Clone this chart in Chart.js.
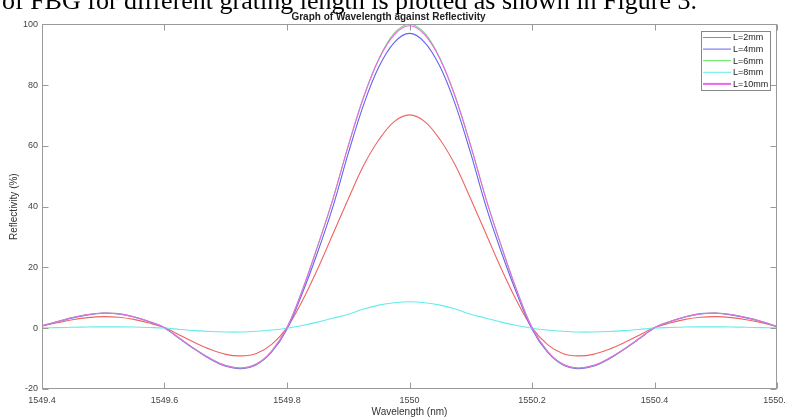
<!DOCTYPE html>
<html>
<head>
<meta charset="utf-8">
<script src="https://cdn.jsdelivr.net/npm/chart.js@4.4.0/dist/chart.umd.min.js"></script>
<style>
html, body { margin: 0; padding: 0; background: #fff; overflow: hidden; }
canvas { display: block; }
</style>
</head>
<body>
<canvas id="chartReflect" width="786" height="417"></canvas>
<script>
// ===============================
// DATOS - Reflectividad vs longitud de onda
// ===============================
const wavelength = [1549.4, 1549.425, 1549.45, 1549.475, 1549.5, 1549.525, 1549.55, 1549.575, 1549.6, 1549.625,
    1549.65, 1549.675, 1549.7, 1549.725, 1549.75, 1549.775, 1549.8, 1549.825, 1549.85, 1549.875,
    1549.9, 1549.925, 1549.95, 1549.975, 1550, 1550.025, 1550.05, 1550.075, 1550.1, 1550.125,
    1550.15, 1550.175, 1550.2, 1550.225, 1550.25, 1550.275, 1550.3, 1550.325, 1550.35, 1550.375,
    1550.4, 1550.425, 1550.45, 1550.475, 1550.5, 1550.525, 1550.55, 1550.575, 1550.6];

const seriesNames = ["L=2mm", "L=4mm", "L=6mm", "L=8mm", "L=10mm"];

const refl2mm = [0.8, 1.8, 2.8, 3.5, 3.8, 3.6, 2.9, 1.7, 0.2, -2.3, -4.8, -7.0, -8.6, -9.1, -8.3, -5.3, 0.2, 9, 19.5, 31, 42.5, 53.5, 62, 68,
    70.2,
    68, 62, 53.5, 42.5, 31, 19.5, 9, 0.2, -5.3, -8.3, -9.1, -8.6, -7.0, -4.8, -2.3, 0.2, 1.7, 2.9, 3.6, 3.8, 3.5, 2.8, 1.8, 0.6];

const refl4mm = [0.7, 2.1, 3.4, 4.4, 4.9, 4.7, 3.7, 2.1, 0.1, -3.5, -7.0, -10.2, -12.5, -13.3, -12.0, -7.8, -0.3, 11.5, 25, 40, 57.5, 73.5, 86, 94,
    97,
    94, 86, 73.5, 57.5, 40, 25, 11.5, -0.3, -7.8, -12.0, -13.3, -12.5, -10.2, -7.0, -3.5, 0.1, 2.1, 3.7, 4.7, 4.9, 4.4, 3.4, 2.1, 0.5];

const refl6mm = [0.8, 2.2, 3.5, 4.5, 5.0, 4.8, 3.8, 2.2, 0.2, -3.4, -6.9, -10, -12.3, -13.1, -11.8, -7.5, 0.2, 12.5, 27, 42.5, 60, 76, 88.7, 97,
    100,
    97, 88.7, 76, 60, 42.5, 27, 12.5, 0.2, -7.5, -11.8, -13.1, -12.3, -10, -6.9, -3.4, 0.2, 2.2, 3.8, 4.8, 5.0, 4.5, 3.5, 2.2, 0.6];

const refl8mm = [0.1, 0.2, 0.3, 0.4, 0.45, 0.45, 0.4, 0.25, 0.05, -0.4, -0.8, -1.1, -1.25, -1.25, -1.0, -0.6, 0.0, 0.9, 2.0, 3.3, 4.6, 6.3, 7.6, 8.4,
    8.7,
    8.4, 7.6, 6.3, 4.6, 3.3, 2.0, 0.9, 0.0, -0.6, -1.0, -1.25, -1.25, -1.1, -0.8, -0.4, 0.05, 0.25, 0.4, 0.45, 0.45, 0.4, 0.3, 0.2, 0.1];

const refl10mm = [0.8, 2.2, 3.5, 4.5, 5.0, 4.8, 3.8, 2.2, 0.2, -3.4, -6.9, -10, -12.3, -13.1, -11.8, -7.5, 0.2, 12.5, 27, 42.5, 60, 76, 88.5, 96.5,
    99.5,
    96.5, 88.5, 76, 60, 42.5, 27, 12.5, 0.2, -7.5, -11.8, -13.1, -12.3, -10, -6.9, -3.4, 0.2, 2.2, 3.8, 4.8, 5.0, 4.5, 3.5, 2.2, 0.6];

const xTicks = [1549.4, 1549.6, 1549.8, 1550, 1550.2, 1550.4, 1550.6];
const yTicks = [-20, 0, 20, 40, 60, 80, 100];

const colors = ["#f06464", "#6464f0", "#5ce65c", "#64ecec", "#f064f0"];
const allSeries = [refl2mm, refl4mm, refl6mm, refl8mm, refl10mm];

const FONT = "'Liberation Sans', Arial, sans-serif";

// ===============================
// PLUGIN - caja, ticks hacia dentro, leyenda, texto superior
// ===============================
const boxPlugin = {
    id: "boxPlugin",
    afterDraw(chart) {
        const ctx = chart.ctx;
        const a = chart.chartArea;
        const xs = chart.scales.x, ys = chart.scales.y;
        const L = Math.round(a.left) + 0.5, R = Math.round(a.right) - 0.5;
        const T = Math.round(a.top) + 0.5, B = Math.round(a.bottom) - 0.5;
        ctx.save();
        ctx.strokeStyle = "#9a9a9a";
        ctx.lineWidth = 1;
        ctx.strokeRect(L, T, R - L, B - T);
        ctx.beginPath();
        xTicks.forEach(v => {
            const px = Math.round(xs.getPixelForValue(v)) + 0.5;
            ctx.moveTo(px, B); ctx.lineTo(px, B - 6);
            ctx.moveTo(px, T); ctx.lineTo(px, T + 6);
        });
        yTicks.forEach(v => {
            const py = Math.round(ys.getPixelForValue(v)) + 0.5;
            ctx.moveTo(L, py); ctx.lineTo(L + 6, py);
            ctx.moveTo(R, py); ctx.lineTo(R - 6, py);
        });
        ctx.stroke();

        // leyenda
        const lx = 701.5, ly = 31.5, lw = 69, lh = 59;
        ctx.fillStyle = "#fff";
        ctx.fillRect(lx, ly, lw, lh);
        ctx.strokeStyle = "#888";
        ctx.strokeRect(lx, ly, lw, lh);
        ctx.font = "9px " + FONT;
        ctx.textBaseline = "middle";
        ctx.textAlign = "left";
        chart.data.datasets.forEach((ds, i) => {
            const y = 37.5 + i * 11.6;
            ctx.strokeStyle = ds.borderColor;
            ctx.lineWidth = i === 4 ? 2 : 1;
            ctx.beginPath();
            ctx.moveTo(703, y); ctx.lineTo(731, y);
            ctx.stroke();
            ctx.fillStyle = "#222";
            ctx.fillText(ds.label, 733, y + 0.5);
        });

        // texto del documento (recortado arriba)
        ctx.fillStyle = "#000";
        ctx.font = "26px 'Liberation Serif', 'Times New Roman', serif";
        ctx.textBaseline = "alphabetic";
        ctx.fillText("of FBG for different grating length is plotted as shown in Figure 3.", 2, 9);
        ctx.restore();
    }
};

// ===============================
// GRÁFICO DE LÍNEAS
// ===============================
new Chart(document.getElementById("chartReflect"), {
    type: "line",
    data: {
        datasets: allSeries.map((arr, i) => ({
            label: seriesNames[i],
            data: wavelength.map((w, j) => ({ x: w, y: arr[j] })),
            borderColor: colors[i],
            borderWidth: 1.1,
            pointRadius: 0,
            fill: false,
            tension: 0.35,
            order: allSeries.length - i   // la última serie queda encima
        }))
    },
    options: {
        responsive: false,
        animation: false,
        layout: { padding: { right: 9, top: 0, bottom: 0, left: 0 } },
        plugins: {
            legend: { display: false },
            tooltip: { enabled: false },
            title: {
                display: true,
                text: "Graph of Wavelength against Reflectivity",
                color: "#222",
                font: { family: FONT, size: 10, weight: "bold", lineHeight: 1.2 },
                padding: { top: 11, bottom: 1.3 }
            }
        },
        scales: {
            x: {
                type: "linear",
                min: 1549.4,
                max: 1550.6,
                afterBuildTicks: s => { s.ticks = xTicks.map(v => ({ value: v })); },
                afterFit: s => { s.height = 28; s.paddingLeft = 0; s.paddingRight = 0; },
                grid: { display: false, drawTicks: false },
                border: { display: false },
                ticks: {
                    color: "#444",
                    font: { family: FONT, size: 9 },
                    padding: 6,
                    maxRotation: 0,
                    autoSkip: false,
                    callback: v => String(Number(v.toFixed(1)))
                },
                title: {
                    display: true,
                    text: "Wavelength (nm)",
                    color: "#333",
                    font: { family: FONT, size: 10, lineHeight: 1 },
                    padding: 0
                }
            },
            y: {
                min: -20,
                max: 100,
                afterBuildTicks: s => { s.ticks = yTicks.map(v => ({ value: v })); },
                afterFit: s => { s.width = 42; s.paddingTop = 0; s.paddingBottom = 0; },
                grid: { display: false, drawTicks: false },
                border: { display: false },
                ticks: {
                    color: "#444",
                    font: { family: FONT, size: 9 },
                    padding: 4
                },
                title: {
                    display: true,
                    text: "Reflectivity (%)",
                    color: "#333",
                    font: { family: FONT, size: 10, lineHeight: 1 },
                    padding: { top: 9, bottom: 0 }
                }
            }
        }
    },
    plugins: [boxPlugin]
});
</script>
</body>
</html>
